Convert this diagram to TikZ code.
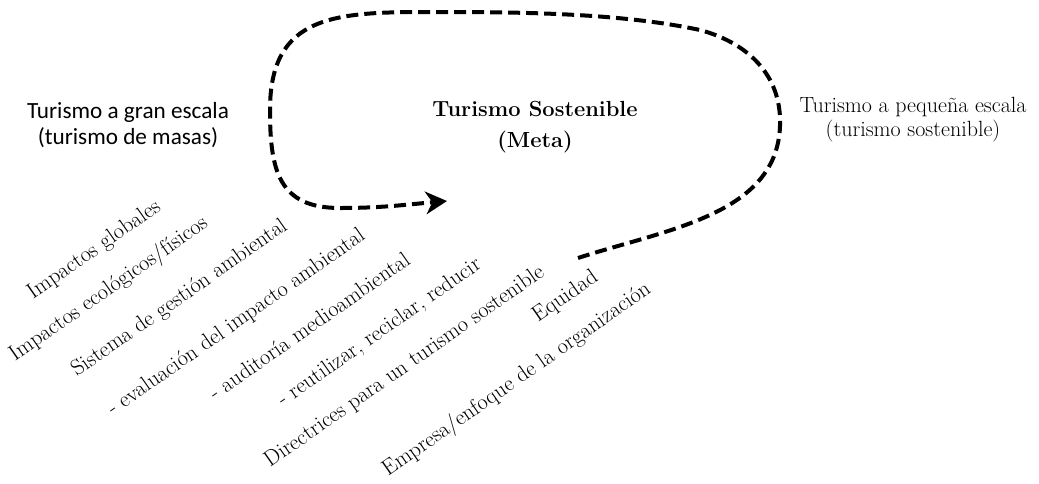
\documentclass[tikz,border=0pt]{standalone}
\usepackage{fontspec}
\usepackage{tikz}
\usetikzlibrary{arrows.meta}
\newfontfamily\calibrifont{Carlito}
\definecolor{loopblack}{HTML}{000000}
\definecolor{textblack}{HTML}{000000}
\tikzset{
  >={Stealth[length=16pt,width=17pt,inset=5pt]},
  goalpath/.style={draw=loopblack, ->, line width=3pt, dash pattern=on 9pt off 4.5pt},
  scaletext/.style={align=center, text=textblack, inner sep=0pt},
  factor/.style={
    anchor=base west,
    rotate=35,
    inner sep=0pt,
    text=textblack,
    font=\fontsize{16.6}{19}\selectfont
  }
}
\begin{document}
\begin{tikzpicture}[x=0.75pt,y=0.75pt]
  \path[use as bounding box] (0,0) rectangle (1039,-483);

  \node[scaletext, font=\calibrifont\fontsize{17.4}{20}\selectfont] (mass) at (128,-125)
    {Turismo a gran escala\\(turismo de masas)};
  \node[scaletext, font=\bfseries\fontsize{16.4}{23}\selectfont] (goal) at (535,-127)
    {Turismo Sostenible\\(Meta)};
  \node[scaletext, font=\fontsize{16.5}{18}\selectfont] (small) at (913,-120)
    {Turismo a pequeña escala\\(turismo sostenible)};

  \node[factor] (globales) at (33,-300) {Impactos globales};
  \node[factor] (ecologicos) at (15,-362) {Impactos ecológicos/físicos};
  \node[factor] (gestion) at (77,-377) {Sistema de gestión ambiental};
  \node[factor] (evaluacion) at (113,-416) {- evaluación del impacto ambiental};
  \node[factor] (auditoria) at (215,-401) {- auditoría medioambiental};
  \node[factor] (reutilizar) at (283,-407) {- reutilizar, reciclar, reducir};
  \node[factor] (directrices) at (270,-468) {Directrices para un turismo sostenible};
  \node[factor] (equidad) at (538,-323) {Equidad};
  \node[factor] (empresa) at (388,-477) {Empresa/enfoque de la organización};

  \coordinate (loopstart) at (578,-258);
  \coordinate (looptip) at (447,-201);

  \draw[goalpath] (loopstart) to[out=18,in=-88] (780,-118)
    to[out=92,in=-15] (700,-30)
    to[out=168,in=0,looseness=0.8] (430,-12)
    to[out=180,in=90,looseness=1.3] (270,-110)
    to[out=-90,in=180,looseness=1.3] (340,-208)
    to[out=0,in=185] (looptip);
\end{tikzpicture}
\end{document}
